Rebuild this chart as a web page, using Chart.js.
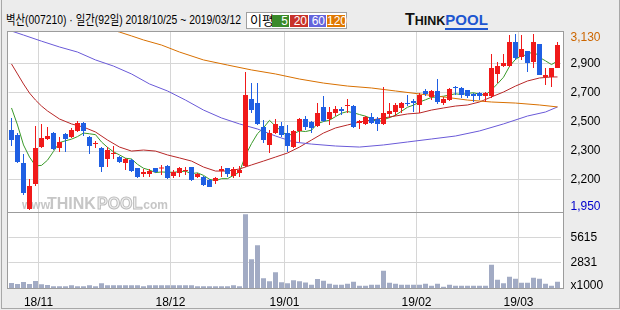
<!DOCTYPE html>
<html>
<head>
<meta charset="utf-8">
<script src="https://cdn.jsdelivr.net/npm/chart.js@4.4.1/dist/chart.umd.min.js"></script>
<style>
  html, body { margin: 0; padding: 0; background: #ececec; }
  #wrap { position: relative; width: 620px; height: 310px; overflow: hidden;
          font-family: "Liberation Sans", "Noto Sans CJK KR", sans-serif; }
  #frame { position: absolute; left: 1px; top: 0; width: 617px; height: 308px;
           border: 1px solid #a8a8a8; border-top: none; }
  #plot { position: absolute; left: 8px; top: 32px; width: 555px; height: 256px; background: #fff; }
  canvas { position: absolute; left: 0; top: 0; }
  #title { position: absolute; left: 6px; top: 11px; font-size: 13px; line-height: 18px; color: #000;
           white-space: nowrap; transform-origin: 0 0; }
  #legend { position: absolute; left: 246px; top: 12px; width: 99px; height: 15px;
            border: 1px solid #a0a0a0; background: #fff; }
  #legend .lbl { position: absolute; left: 3px; top: -1px; font-size: 13px; line-height: 17px; }
  #legend .b { position: absolute; top: 2px; height: 12px; color: #fff; font-size: 12px;
               line-height: 12px; text-align: right; padding-right: 1px; box-sizing: border-box; }
  #logo { position: absolute; left: 405px; top: 11px; font-weight: bold; white-space: nowrap; line-height: 18px; }
  #logo .t { font-size: 16px; color: #111; }
  #logo .h { font-size: 12.5px; color: #111; }
  #logo .p { font-size: 15px; color: #1d56d0; border-bottom: 2px solid #1d56d0; line-height: 13px; }
</style>
</head>
<body>
<div id="wrap">
  <div id="frame"></div>
  <div id="plot"></div>
  <div id="title">벽산(007210) · 일간(92일) 2018/10/25 ~ 2019/03/12</div>
  <div id="legend">
    <span class="lbl">이평</span>
    <span class="b" style="left:25px;width:17px;background:#3a8a2a">5</span>
    <span class="b" style="left:43px;width:18px;background:#c8322a">20</span>
    <span class="b" style="left:62px;width:17px;background:#6464dc">60</span>
    <span class="b" style="left:80px;width:18px;background:#e07800">120</span>
  </div>
  <div id="logo"><span class="t">T</span><span class="h">HINK</span><span class="p">POOL</span></div>
  <canvas id="price" width="620" height="310"></canvas>
  <canvas id="volume" width="620" height="310"></canvas>
</div>
<script>
// trading days shown (92)
const dates = [
  '18/10/25','18/10/26','18/10/29','18/10/30','18/10/31',
  '18/11/01','18/11/02','18/11/05','18/11/06','18/11/07','18/11/08','18/11/09','18/11/12','18/11/13','18/11/14',
  '18/11/15','18/11/16','18/11/19','18/11/20','18/11/21','18/11/22','18/11/23','18/11/26','18/11/27','18/11/28',
  '18/11/29','18/11/30',
  '18/12/03','18/12/04','18/12/05','18/12/06','18/12/07','18/12/10','18/12/11','18/12/12','18/12/13','18/12/14',
  '18/12/17','18/12/18','18/12/19','18/12/20','18/12/21','18/12/24','18/12/26','18/12/27','18/12/28',
  '19/01/02','19/01/03','19/01/04','19/01/07','19/01/08','19/01/09','19/01/10','19/01/11','19/01/14','19/01/15',
  '19/01/16','19/01/17','19/01/18','19/01/21','19/01/22','19/01/23','19/01/24','19/01/25','19/01/28','19/01/29',
  '19/01/30','19/01/31',
  '19/02/01','19/02/07','19/02/08','19/02/11','19/02/12','19/02/13','19/02/14','19/02/15','19/02/18','19/02/19',
  '19/02/20','19/02/21','19/02/22','19/02/25','19/02/26','19/02/27','19/02/28',
  '19/03/04','19/03/05','19/03/06','19/03/07','19/03/08','19/03/11','19/03/12'
];
const monthTickIdx = [5, 27, 46, 68, 85];
const monthTickLabels = ['18/11', '18/12', '19/01', '19/02', '19/03'];

const opens = [2486,2453,2265,1957,2124,2372,2426,2466,2366,2459, 2439,2480,2533,2439,2392,2366,2292,2325,2305,2265,
  2285,2232,2191,2191,2232,2228,2245,2178,2198,2211, 2238,2171,2171,2151,2144,2211,2232,2178,2198,2245,
  2694,2667,2506,2386,2466,2513,2466,2372,2480,2560, 2540,2513,2641,2560,2600,2627,2647,2647,2533,2527,
  2573,2560,2527,2594,2607,2634,2667,2681,2654,2748, 2708,2748,2667,2687,2775,2768,2755,2728,2734,2714,
  2714,2862,2915,2915,3076,2976,3016,2942,3063,2842, 2842,2902];
const highs = [2567,2466,2325,2158,2513,2527,2506,2473,2439,2466, 2500,2547,2540,2446,2413,2372,2372,2379,2312,2299,
  2292,2232,2225,2225,2232,2252,2252,2218,2238,2238, 2238,2198,2178,2158,2171,2245,2232,2238,2245,2875,
  2801,2801,2553,2486,2560,2540,2520,2486,2567,2580, 2547,2667,2714,2641,2647,2641,2694,2654,2553,2580,
  2600,2573,2775,2667,2667,2674,2721,2694,2734,2761, 2755,2828,2708,2768,2781,2775,2755,2734,2741,2741,
  2996,2942,2996,3123,3130,3123,3016,3130,3063,2902, 2902,3076];
const lows = [2379,2265,2050,1950,2111,2366,2419,2352,2339,2339, 2433,2473,2446,2325,2366,2205,2238,2292,2265,2218,
  2205,2164,2171,2171,2198,2185,2158,2164,2171,2185, 2144,2164,2111,2104,2124,2171,2171,2164,2171,2238,
  2600,2520,2399,2332,2459,2439,2339,2366,2406,2486, 2466,2506,2540,2520,2580,2587,2600,2500,2493,2520,
  2527,2480,2520,2567,2580,2600,2647,2607,2600,2714, 2687,2661,2654,2681,2721,2701,2701,2674,2687,2674,
  2701,2801,2909,2909,2956,2956,2875,2902,2855,2788, 2775,2902];
const closes = [2419,2272,2064,2111,2366,2433,2446,2359,2406,2426, 2486,2533,2480,2379,2399,2238,2352,2332,2272,2292,
  2211,2171,2205,2211,2205,2232,2164,2205,2232,2218, 2151,2191,2118,2104,2164,2225,2191,2225,2218,2721,
  2620,2527,2419,2466,2527,2453,2379,2480,2560,2506, 2500,2600,2547,2607,2627,2614,2654,2506,2547,2573,
  2533,2527,2600,2614,2654,2667,2661,2667,2721,2728, 2748,2674,2694,2761,2768,2721,2714,2714,2714,2734,
  2902,2915,2936,3076,2969,3029,2936,3076,2855,2855, 2902,3056];

// moving averages
const ma5 = [2634,2520,2386,2305,2246,2249,2284,2343,2402,2414, 2425,2442,2466,2461,2455,2406,2370,2340,2319,2297,
  2292,2256,2230,2218,2201,2205,2203,2203,2207,2210, 2194,2199,2182,2156,2146,2160,2160,2182,2205,2316,
  2395,2462,2501,2551,2512,2478,2449,2461,2480,2476, 2485,2529,2543,2552,2576,2599,2610,2602,2590,2579,
  2563,2537,2556,2569,2586,2612,2639,2653,2674,2689, 2705,2708,2713,2721,2729,2724,2732,2736,2726,2720,
  2756,2796,2840,2913,2960,2985,2989,3017,2973,2950, 2925,2949];
const ma20Idx = [0,1,2,3,4,5,6,8,10,12,14,16,18,20,22,24,26,28,30,32,34,36,38,40,42,44,46,48,50,52,54,56,58,60,62,64,66,68,70,72,74,76,78,80,82,84,86,88,90,91];
const ma20 = [2929,2862,2795,2734,2687,2647,2614,2560,2527,2506,2473,2419,2372,2345,2352,2345,2319,2299,2278,2238,
  2211,2211,2225,2252,2278,2305,2332,2372,2419,2466,2500,2520,2540,2553,2567,2580,2594,2600,2620,2634,
  2647,2654,2674,2708,2741,2781,2815,2835,2842,2842];
const ma60Idx = [0,2,5,8,11,14,17,20,23,26,29,32,35,38,41,44,47,50,54,58,62,66,70,74,78,82,86,89,91];
const ma60 = [3150,3123,3082,3043,3009,2956,2915,2862,2795,2748,2687,2620,2567,2527,2493,2446,2406,2392,2379,2372,
  2386,2406,2426,2446,2480,2527,2580,2607,2641];
const ma120Idx = [0,10,18,20,22,25,28,32,36,40,44,48,52,56,60,64,68,72,76,80,84,88,91];
const ma120 = [3358,3237,3143,3117,3090,3056,3009,2956,2922,2889,2862,2828,2801,2781,2768,2748,2728,2708,2687,2674,
  2667,2654,2641];

// volume, thousands of shares
const volumes = [555,444,666,444,777,407,333,185,185,185, 296,185,185,296,185,518,296,296,296,296,
  296,296,185,296,296,296,296,296,296,296, 296,185,185,185,185,185,185,296,185,8177,
  3182,4736,1073,740,1739,629,518,851,740,600, 370,999,814,481,370,370,481,703,259,259,
  370,370,1924,592,481,370,370,370,370,481, 259,481,148,370,259,259,259,259,259,259,
  2590,925,518,1258,1036,592,592,1147,1036,481, 259,703];

// right axis labels (grid rows are evenly spaced, labels rounded)
const priceTicks = [1970, 2151.1, 2345.5, 2540, 2734.4, 2928.9, 3103];
const priceTickLabels = ['1,950', '2,200', '2,300', '2,500', '2,700', '2,900', '3,130'];
const volTicks = [222, 2831, 5615];
const volTickLabels = ['x1000', '2831', '5615'];

// squeeze the header into the width it takes in the original
const title = document.getElementById('title');
title.style.transform = 'scaleX(' + (235 / title.getBoundingClientRect().width) + ')';

Chart.defaults.font.family = '"Liberation Sans", Arial, sans-serif';
Chart.defaults.font.size = 12;
Chart.defaults.color = '#000';

const UP = '#f01a1a';
const DOWN = '#1f5fe3';
const GRID = '#d6d6d6';
const NONE = 'rgba(0,0,0,0)';
const candleColor = closes.map((c, i) => (c >= opens[i] ? UP : DOWN));
const monthGrid = ctx => (monthTickIdx.includes(ctx.index) ? GRID : NONE);
const fixWidth = s => { s.width = 59.5; };
const pts = (idx, vals) => idx.map((i, k) => ({ x: dates[i], y: vals[k] }));

const maLine = (data, color) => ({
  type: 'line', data, borderColor: color, borderWidth: 1, pointRadius: 0, tension: 0, order: 3
});

// faint site watermark behind the candles
const watermark = {
  id: 'watermark',
  beforeDatasetsDraw(chart) {
    const g = chart.ctx;
    g.save();
    g.fillStyle = '#c6c6c6';
    g.font = 'bold 12px "Liberation Sans"';
    g.fillText('www.', 22, 209);
    g.font = 'bold 16px "Liberation Sans"';
    g.fillText('THINK', 47, 209);
    g.fillStyle = '#f2f2f2';
    g.fillText('POOL', 97, 209);
    g.strokeStyle = '#bdbdbd';
    g.lineWidth = 1;
    g.strokeText('POOL', 97, 209);
    g.fillStyle = '#c6c6c6';
    g.font = 'bold 12px "Liberation Sans"';
    g.fillText('.com', 140, 209);
    g.restore();
  }
};

// plot frame around both panels
const frame = {
  id: 'frame',
  afterDraw(chart) {
    const g = chart.ctx;
    g.save();
    g.strokeStyle = '#9c9c9c';
    g.lineWidth = 1;
    g.strokeRect(7.5, 31.5, 556, 257);
    g.beginPath();
    g.moveTo(7.5, 212.5);
    g.lineTo(563.5, 212.5);
    g.stroke();
    g.restore();
  }
};

new Chart(document.getElementById('price'), {
  type: 'bar',
  data: {
    labels: dates,
    datasets: [
      maLine(pts(ma120Idx, ma120), '#d87000'),
      maLine(pts(ma60Idx, ma60), '#6a5ad8'),
      maLine(pts(ma20Idx, ma20), '#b82828'),
      maLine(ma5, '#3a9a2a'),
      {
        data: lows.map((l, i) => [l, highs[i]]),
        backgroundColor: candleColor, barThickness: 1, grouped: false, inflateAmount: 0, order: 1
      },
      {
        data: opens.map((o, i) => [o, closes[i]]),
        backgroundColor: candleColor, barThickness: 5, minBarLength: 1, grouped: false, inflateAmount: 0, order: 0
      }
    ]
  },
  options: {
    responsive: false,
    animation: false,
    layout: { padding: { left: 8.5, right: 0, top: 32, bottom: 98 } },
    plugins: { legend: { display: false }, tooltip: { enabled: false } },
    scales: {
      x: {
        offset: true,
        grid: { color: monthGrid, drawTicks: false, offset: true },
        border: { display: false },
        ticks: { display: false },
        afterFit: s => { s.height = 0; }
      },
      y: {
        position: 'right',
        min: 1936.5,
        max: 3143.4,
        afterFit: fixWidth,
        afterBuildTicks: s => { s.ticks = priceTicks.map(v => ({ value: v })); },
        grid: {
          drawTicks: false,
          color: c => (c.index === 0 || c.index === priceTicks.length - 1 ? NONE : GRID)
        },
        border: { display: false },
        ticks: {
          padding: 10,
          callback: (v, i) => priceTickLabels[i],
          color: c => (c.index === 0 ? '#0000cc' : c.index === priceTicks.length - 1 ? '#cc6600' : '#000')
        }
      }
    }
  },
  plugins: [watermark]
});

new Chart(document.getElementById('volume'), {
  type: 'bar',
  data: {
    labels: dates,
    datasets: [{
      data: volumes, backgroundColor: '#a2abc4', barThickness: 5, inflateAmount: 0
    }]
  },
  options: {
    responsive: false,
    animation: false,
    layout: { padding: { left: 8.5, right: 0, top: 212, bottom: 0 } },
    plugins: { legend: { display: false }, tooltip: { enabled: false } },
    scales: {
      x: {
        offset: true,
        grid: { color: monthGrid, drawTicks: false, offset: true },
        border: { display: false },
        ticks: {
          autoSkip: false,
          maxRotation: 0,
          padding: 7,
          labelOffset: -3,
          callback: (v, i) => {
            const k = monthTickIdx.indexOf(i);
            return k < 0 ? '' : monthTickLabels[k];
          }
        },
        afterFit: s => { s.height = 22; }
      },
      y: {
        position: 'right',
        min: 0,
        max: 8430,
        afterFit: fixWidth,
        afterBuildTicks: s => { s.ticks = volTicks.map(v => ({ value: v })); },
        grid: { drawTicks: false, color: c => (c.index === 0 ? NONE : GRID) },
        border: { display: false },
        ticks: { padding: 10, callback: (v, i) => volTickLabels[i] }
      }
    }
  },
  plugins: [frame]
});
</script>
</body>
</html>
